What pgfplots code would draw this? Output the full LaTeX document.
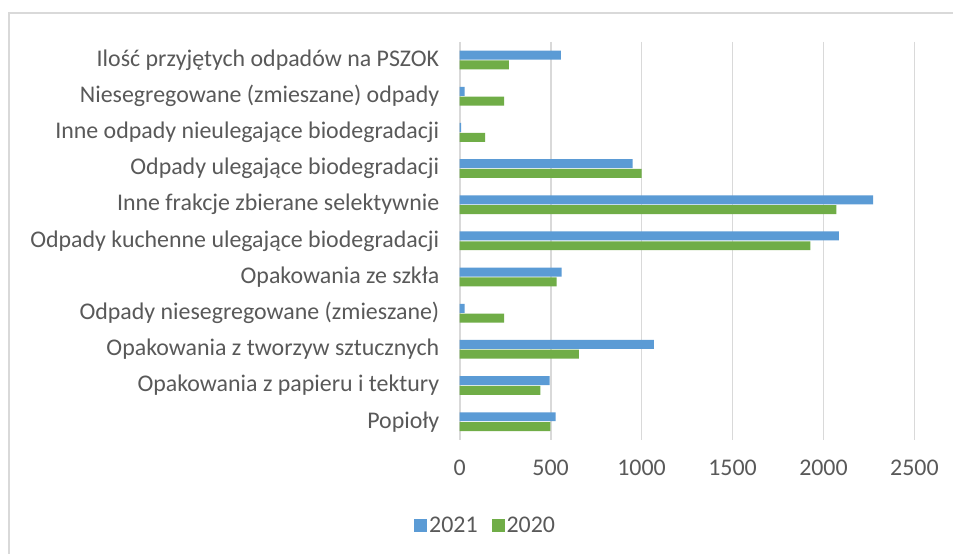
\documentclass[border=0pt]{standalone}
\usepackage{fontspec}
\setmainfont{Carlito}
\usepackage{pgfplots}
\pgfplotsset{compat=1.18}
\definecolor{c21}{HTML}{5B9BD5}
\definecolor{c20}{HTML}{70AD47}
\definecolor{txt}{HTML}{595959}
\definecolor{grd}{HTML}{D9D9D9}

\begin{document}
\begin{tikzpicture}
\fill[white] (0,0) rectangle (954bp,554bp);
\draw[grd, line width=1.2bp] (9bp,0) -- (9bp,541bp) -- (954bp,541bp);
\begin{axis}[
    at={(460bp,114bp)}, anchor=south west,
    scale only axis, width=455bp, height=398bp,
    xbar, bar width=9bp,
    xmin=0, xmax=2500, xtick={0,500,...,2500},
    ymin=-0.5, ymax=10.5, y dir=reverse,
    ytick={0,...,10},
    yticklabels={
      Ilość przyjętych odpadów na PSZOK,
      Niesegregowane (zmieszane) odpady,
      Inne odpady nieulegające biodegradacji,
      Odpady ulegające biodegradacji,
      Inne frakcje zbierane selektywnie,
      Odpady kuchenne ulegające biodegradacji,
      Opakowania ze szkła,
      Odpady niesegregowane (zmieszane),
      Opakowania z tworzyw sztucznych,
      Opakowania z papieru i tektury,
      Popioły},
    axis line style={draw=none},
    major tick length=0pt,
    xmajorgrids, grid style={grd, line width=1.8bp},
    tick label style={font=\fontsize{24}{29}\selectfont, text=txt},
    /pgf/number format/assume math mode=true,
    /pgf/number format/set thousands separator={},
    xticklabel style={yshift=-17bp},
    yticklabel style={xshift=-17bp},
    legend style={at={(0.057,-0.215)}, anchor=center, draw=none,
      font=\fontsize{24}{29}\selectfont, text=txt,
      /tikz/every even column/.append style={column sep=12bp}},
    legend columns=2,
    legend image code/.code={\fill[#1] (0bp,-6.5bp) rectangle (13bp,6.5bp);},
]
\addplot[fill=c21, draw=none, bar shift=4.9bp] coordinates {
  (556,0) (27,1) (8,2) (951,3) (2273,4) (2084,5)
  (561,6) (27,7) (1068,8) (494,9) (527,10)
};
\addlegendentry{2021}
\addplot[fill=c20, draw=none, bar shift=-4.9bp] coordinates {
  (270,0) (244,1) (140,2) (1000,3) (2071,4) (1928,5)
  (533,6) (244,7) (655,8) (444,9) (499,10)
};
\addlegendentry{2020}
\end{axis}
\end{tikzpicture}
\end{document}
